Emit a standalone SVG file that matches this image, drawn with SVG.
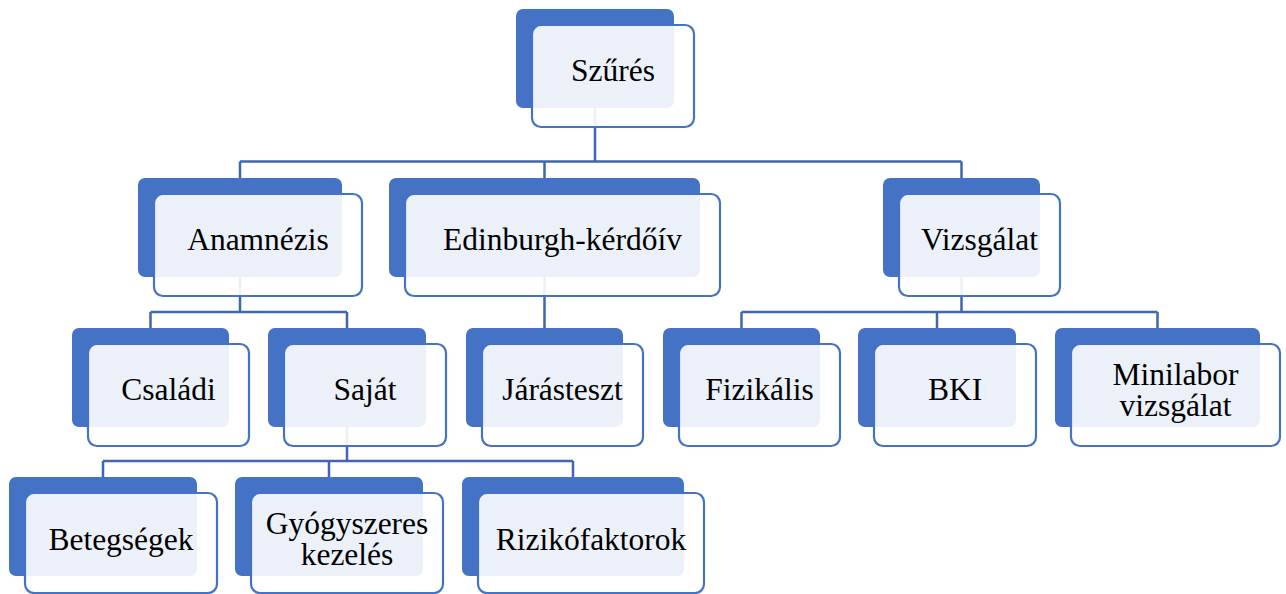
<svg xmlns="http://www.w3.org/2000/svg" width="1286" height="594" viewBox="0 0 1286 594">
<style>
.bk{fill:#4472C4}
.fr{fill:#FFFFFF;fill-opacity:0.9;stroke:#4472C4;stroke-width:2.2}
.c{fill:none;stroke:#3F66AE;stroke-width:2.5}
</style>
<rect width="1286" height="594" fill="#FFFFFF"/>
<g id="connectors">
<path class="c" d="M595,100V161.5M240,161.5H961.5M240,161.5V178M544.5,161.5V178M961.5,161.5V178"/>
<path class="c" d="M240,270V312M150.5,312H347M150.5,312V328M347,312V328"/>
<path class="c" d="M544.5,270V328"/>
<path class="c" d="M961.5,270V312M741.5,312H1157.5M741.5,312V328M937,312V328M1157.5,312V328"/>
<path class="c" d="M347,420V461M103,461H573M103,461V477M329,461V477M573,461V477"/>
</g>
<g font-family="Liberation Serif" font-size="31.5" fill="#000000" text-anchor="middle">
<g id="n-szures">
<rect class="bk" x="516" y="9" width="158" height="99" rx="7"/>
<rect class="fr" x="532" y="25" width="162" height="102" rx="9"/>
<text x="613" y="81">Szűrés</text>
</g>
<g id="n-anamnezis">
<rect class="bk" x="138" y="178" width="204" height="99" rx="7"/>
<rect class="fr" x="154" y="194" width="208" height="102" rx="9"/>
<text x="258" y="250">Anamnézis</text>
</g>
<g id="n-edinburgh">
<rect class="bk" x="389" y="178" width="311" height="99" rx="7"/>
<rect class="fr" x="405" y="194" width="315" height="102" rx="9"/>
<text x="562.5" y="250">Edinburgh-kérdőív</text>
</g>
<g id="n-vizsgalat">
<rect class="bk" x="883" y="178" width="157" height="99" rx="7"/>
<rect class="fr" x="899" y="194" width="161" height="102" rx="9"/>
<text x="979.5" y="250">Vizsgálat</text>
</g>
<g id="n-csaladi">
<rect class="bk" x="72" y="328" width="157" height="99" rx="7"/>
<rect class="fr" x="88" y="344" width="161" height="102" rx="9"/>
<text x="168.5" y="400">Családi</text>
</g>
<g id="n-sajat">
<rect class="bk" x="268" y="328" width="158" height="99" rx="7"/>
<rect class="fr" x="284" y="344" width="162" height="102" rx="9"/>
<text x="365" y="400">Saját</text>
</g>
<g id="n-jarasteszt">
<rect class="bk" x="466" y="328" width="157" height="99" rx="7"/>
<rect class="fr" x="482" y="344" width="161" height="102" rx="9"/>
<text x="562.5" y="400">Járásteszt</text>
</g>
<g id="n-fizikalis">
<rect class="bk" x="663" y="328" width="157" height="99" rx="7"/>
<rect class="fr" x="679" y="344" width="161" height="102" rx="9"/>
<text x="759.5" y="400">Fizikális</text>
</g>
<g id="n-bki">
<rect class="bk" x="858" y="328" width="158" height="99" rx="7"/>
<rect class="fr" x="874" y="344" width="162" height="102" rx="9"/>
<text x="955" y="400">BKI</text>
</g>
<g id="n-minilabor">
<rect class="bk" x="1055" y="328" width="205" height="99" rx="7"/>
<rect class="fr" x="1071" y="344" width="209" height="102" rx="9"/>
<text x="1175.5" y="385">Minilabor</text>
<text x="1175.5" y="416">vizsgálat</text>
</g>
<g id="n-betegsegek">
<rect class="bk" x="9" y="477" width="188" height="99" rx="7"/>
<rect class="fr" x="25" y="493" width="192" height="100" rx="9"/>
<text x="121" y="550">Betegségek</text>
</g>
<g id="n-gyogyszeres">
<rect class="bk" x="235" y="477" width="188" height="99" rx="7"/>
<rect class="fr" x="251" y="493" width="192" height="100" rx="9"/>
<text x="347" y="534">Gyógyszeres</text>
<text x="347" y="565">kezelés</text>
</g>
<g id="n-rizikofaktorok">
<rect class="bk" x="462" y="477" width="222" height="99" rx="7"/>
<rect class="fr" x="478" y="493" width="226" height="100" rx="9"/>
<text x="591" y="550">Rizikófaktorok</text>
</g>
</g>
</svg>
